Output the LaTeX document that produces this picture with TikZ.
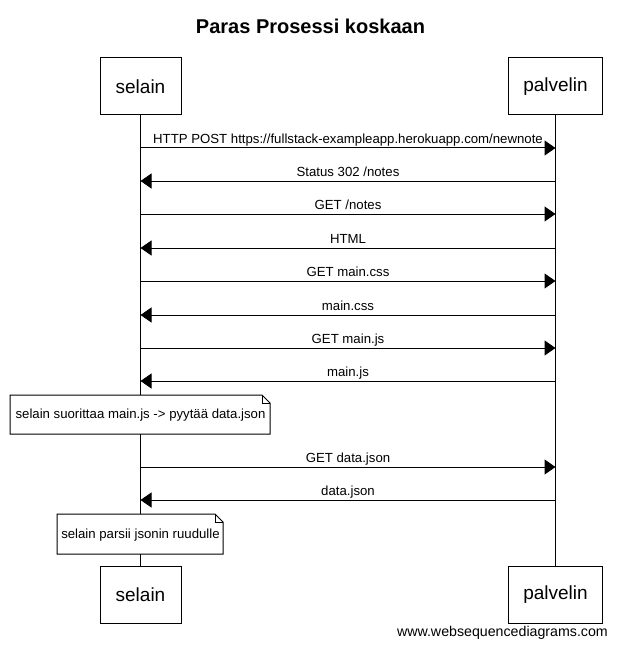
\documentclass[tikz,border=0pt]{standalone}
\usepackage{fontspec}
\setmainfont{Liberation Sans}
\usetikzlibrary{arrows.meta}
\begin{document}
\begin{tikzpicture}[x=1pt,y=-1pt,
  actor/.style={draw,line width=1pt,minimum height=57pt,inner sep=0pt,font=\fontsize{19}{22}\selectfont},
  msg/.style={line width=1pt,-{Triangle[length=11pt,width=15pt]}},
  lbl/.style={font=\fontsize{13.2}{15}\selectfont,anchor=base,inner sep=0pt},
  life/.style={line width=1pt},
  notebox/.style={draw,line width=1pt,fill=white}]
\useasboundingbox (0,0) rectangle (617,647);
\node[font=\bfseries\fontsize{20}{24}\selectfont] (title) at (310.5,26) {Paras Prosessi koskaan};
\node[actor,minimum width=81pt] (s) at (140.5,86.5) {selain};
\node[actor,minimum width=94pt] (p) at (555.5,86.5) {palvelin};
\node[actor,minimum width=81pt] (sb) at (140.5,594.5) {selain};
\node[actor,minimum width=94pt] (pb) at (555.5,594.5) {palvelin};
\draw[life] (s.south) -- (sb.north);
\draw[life] (p.south) -- (pb.north);
% message end points
\foreach \i/\y in {1/148,2/181,3/214,4/248,5/281,6/315,7/348,8/381,9/467,10/500}{
  \coordinate (s\i) at (140.5,\y);
  \coordinate (p\i) at (555.5,\y);
}
\draw[msg] (s1) -- node[lbl,yshift=4.5pt]{HTTP POST https://fullstack-exampleapp.herokuapp.com/newnote} (p1);
\draw[msg] (p2) -- node[lbl,yshift=4.5pt]{Status 302 /notes} (s2);
\draw[msg] (s3) -- node[lbl,yshift=4.5pt]{GET /notes} (p3);
\draw[msg] (p4) -- node[lbl,yshift=4.5pt]{HTML} (s4);
\draw[msg] (s5) -- node[lbl,yshift=4.5pt]{GET main.css} (p5);
\draw[msg] (p6) -- node[lbl,yshift=4.5pt]{main.css} (s6);
\draw[msg] (s7) -- node[lbl,yshift=4.5pt]{GET main.js} (p7);
\draw[msg] (p8) -- node[lbl,yshift=4.5pt]{main.js} (s8);
\draw[msg] (s9) -- node[lbl,yshift=4.5pt]{GET data.json} (p9);
\draw[msg] (p10) -- node[lbl,yshift=4.5pt]{data.json} (s10);
% notes
\draw[notebox] (10,395) -- (262,395) -- (270,403) -- (270,434) -- (10,434) -- cycle;
\draw[line width=1pt] (262,395) -- (262,403) -- (270,403);
\node[font=\fontsize{13.2}{15}\selectfont,inner sep=0pt] (n1) at (140.5,415) {selain suorittaa main.js -> pyytää data.json};
\draw[notebox] (57,514) -- (215,514) -- (223,522) -- (223,554) -- (57,554) -- cycle;
\draw[line width=1pt] (215,514) -- (215,522) -- (223,522);
\node[font=\fontsize{13.2}{15}\selectfont,inner sep=0pt] (n2) at (140.5,535) {selain parsii jsonin ruudulle};
\node[font=\fontsize{14.2}{16}\selectfont,anchor=base east,inner sep=0pt] (wm) at (608,636.5) {www.websequencediagrams.com};
\end{tikzpicture}
\end{document}
